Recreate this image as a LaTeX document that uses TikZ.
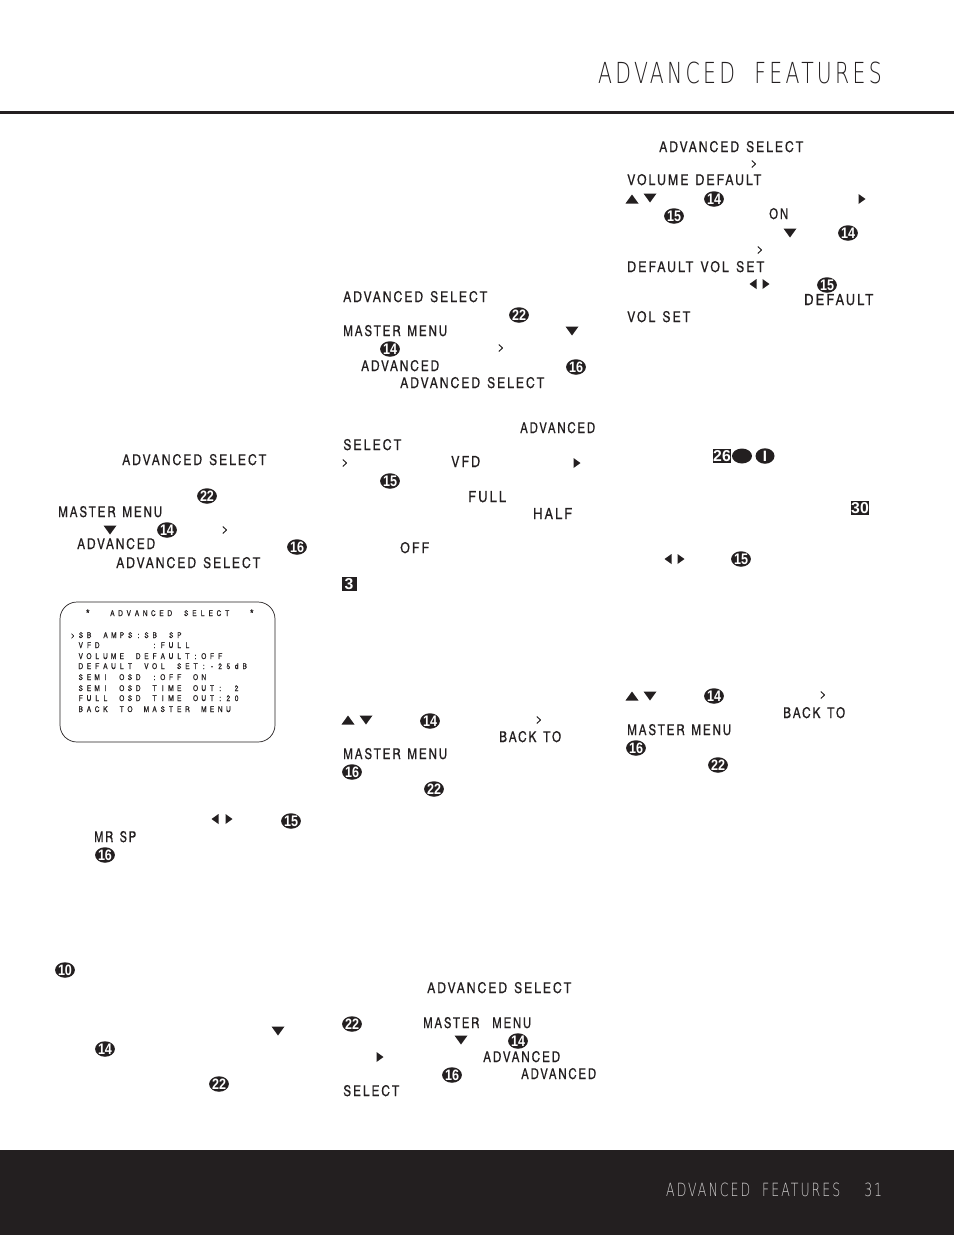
\documentclass[tikz,border=0pt]{standalone}
\usepackage{graphicx}
\usepackage{fontspec}
\usetikzlibrary{shapes.geometric}
\setmainfont{Liberation Sans}
\newfontfamily\thinfont[LetterSpace=16]{DejaVu Sans ExtraLight}
\newfontfamily\lblfont[LetterSpace=13,FakeBold=0.3,WordSpace=1.3]{TeX Gyre Heros Cn}
\newfontfamily\numfont{Liberation Sans Bold}
\newfontfamily\scrfont[FakeBold=0.4]{TeX Gyre Heros Cn}
\definecolor{ink}{HTML}{231F20}
\definecolor{foot}{HTML}{D0CECE}
\newcounter{nn}
\newcommand{\pitchchars}[1]{\ifx#1\relax\else\hbox to 8.2pt{\hss#1\hss}\expandafter\pitchchars\fi}
\newcommand{\bigast}{\raisebox{-2pt}{\fontsize{12}{12}\selectfont *}}
\tikzset{
  x=1pt,y=-1pt,
  lbl/.style={anchor=base west,inner sep=0pt,text=ink,font=\lblfont\fontsize{14}{14}\selectfont},
  badge/.style={ellipse,fill=ink,text=white,inner sep=0pt,minimum width=19pt,minimum height=15.5pt,font=\numfont\fontsize{11}{11}\selectfont},
  sqbadge/.style={rectangle,fill=ink,text=white,inner sep=0pt,minimum width=15pt,minimum height=14.5pt,font=\numfont\fontsize{14}{14}\selectfont},
  mark glyph/.style={fill=ink,draw=none},
  scrline/.style={anchor=base west,inner sep=0pt,text=ink,font=\scrfont\fontsize{8}{8}\selectfont},
  chev/.style={inner sep=0pt,text=ink,font=\lblfont\fontsize{11}{11}\selectfont}
}
\newcommand{\lb}[4]{\stepcounter{nn}\node[lbl] (n\arabic{nn}) at (#1,#2) {\resizebox{#3pt}{11pt}{#4}};}
\newcommand{\ba}[3]{\stepcounter{nn}\node[badge] (n\arabic{nn}) at (#1,#2) {\resizebox{14pt}{10.5pt}{#3}};}
\newcommand{\sq}[3]{\stepcounter{nn}\node[sqbadge] (n\arabic{nn}) at (#1,#2) {\resizebox{!}{11pt}{#3}};}
\newcommand{\gt}[2]{\stepcounter{nn}\node[chev] (n\arabic{nn}) at (#1,#2) {\resizebox{7pt}{7pt}{>}};}
\newcommand{\tdn}[2]{\fill[mark glyph] (#1-6.5,#2-4.5) -- (#1+6.5,#2-4.5) -- (#1,#2+4.5) -- cycle;}
\newcommand{\tup}[2]{\fill[mark glyph] (#1-6.5,#2+4.5) -- (#1+6.5,#2+4.5) -- (#1,#2-4.5) -- cycle;}
\newcommand{\trt}[2]{\fill[mark glyph] (#1-3.5,#2-5) -- (#1+3.5,#2) -- (#1-3.5,#2+5) -- cycle;}
\newcommand{\tlf}[2]{\fill[mark glyph] (#1+3.5,#2-5) -- (#1-3.5,#2) -- (#1+3.5,#2+5) -- cycle;}
\newcommand{\scr}[3]{\stepcounter{nn}\node[scrline] (n\arabic{nn}) at (#1,#2) {\pitchchars#3\relax};}
\begin{document}
\begin{tikzpicture}
\useasboundingbox (0,0) rectangle (954,1235);
% header
\node[anchor=base west,inner sep=0pt,text=ink,font=\thinfont\fontsize{29}{29}\selectfont] (title) at (598,83) {\resizebox{283.5pt}{21.5pt}{ADVANCED~~FEATURES}};
\fill[ink] (0,111) rectangle (954,114);
% footer
\fill[ink] (0,1150) rectangle (954,1235);
\node[anchor=base west,inner sep=0pt,text=foot,font=\thinfont\fontsize{18}{18}\selectfont] (foottext) at (666,1196) {\resizebox{216pt}{13.5pt}{ADVANCED~~FEATURES~~~~31}};
% column 1
\lb{122}{465}{144}{ADVANCED SELECT}
\ba{207}{496}{22}
\lb{58}{517}{104}{MASTER MENU}
\tdn{110}{530}
\ba{167}{530}{14}
\gt{225}{530}
\lb{77}{549}{78}{ADVANCED}
\ba{297}{547}{16}
\lb{116}{568}{144}{ADVANCED SELECT}
\stepcounter{nn}
\draw[ink,line width=0.7pt,rounded corners=17pt] (60,602) rectangle (275,742);
\scr{83.5}{616}{\bigast~~ADVANCED~SELECT~~\bigast}
\scr{68.5}{638}{>SB~AMPS:SB~SP}
\scr{76.5}{648}{VFD~~~~~~:FULL}
\scr{76.5}{659}{VOLUME~DEFAULT:OFF}
\scr{76.5}{669}{DEFAULT~VOL~SET:-25dB}
\scr{76.5}{680}{SEMI~OSD~:OFF~ON}
\scr{76.5}{691}{SEMI~OSD~TIME~OUT:~2}
\scr{76.5}{701}{FULL~OSD~TIME~OUT:20}
\scr{76.5}{712}{BACK~TO~MASTER~MENU}
\tlf{215}{819}
\trt{229}{819}
\ba{291}{821}{15}
\lb{94}{842}{42}{MR SP}
\ba{105}{855}{16}
\ba{65}{970}{10}
\tdn{278}{1031}
\ba{105}{1049}{14}
\ba{219}{1084}{22}
% column 2
\lb{343}{302}{144}{ADVANCED SELECT}
\ba{519}{315}{22}
\lb{343}{336}{104}{MASTER MENU}
\tdn{572}{331}
\ba{390}{349}{14}
\gt{501}{348}
\lb{361}{371}{78}{ADVANCED}
\ba{576}{367}{16}
\lb{400}{388}{144}{ADVANCED SELECT}
\lb{520}{433}{75}{ADVANCED}
\lb{343}{450}{58}{SELECT}
\gt{345}{463}
\lb{451}{467}{29}{VFD}
\trt{577}{463}
\ba{390}{481}{15}
\lb{468}{502}{38}{FULL}
\lb{533}{519}{39}{HALF}
\lb{400}{553}{29}{OFF}
\sq{349}{584}{3}
\tup{348}{720}
\tdn{366}{720}
\ba{430}{721}{14}
\gt{539}{720}
\lb{499}{742}{62}{BACK TO}
\lb{343}{759}{104}{MASTER MENU}
\ba{352}{772}{16}
\ba{434}{789}{22}
\lb{427}{993}{144}{ADVANCED SELECT}
\ba{352}{1024}{22}
\lb{423}{1028}{108}{MASTER~~MENU}
\tdn{461}{1040}
\ba{518}{1041}{14}
\trt{380}{1057}
\lb{483}{1062}{77}{ADVANCED}
\ba{452}{1075}{16}
\lb{521}{1079}{75}{ADVANCED}
\lb{343}{1096}{56}{SELECT}
% column 3
\lb{659}{152}{144}{ADVANCED SELECT}
\gt{754}{164}
\lb{627}{185}{134}{VOLUME DEFAULT}
\tup{632}{199}
\tdn{650}{198}
\ba{714}{199}{14}
\trt{862}{199}
\ba{674}{216}{15}
\lb{769}{219}{19}{ON}
\tdn{790}{233}
\ba{848}{233}{14}
\gt{760}{250}
\lb{627}{272}{137}{DEFAULT VOL SET}
\tlf{753}{284}
\trt{766}{284}
\ba{827}{285}{15}
\lb{804}{305}{69}{DEFAULT}
\lb{627}{322}{63}{VOL SET}
\sq{722}{456}{26}
\fill[ink] (742,456) ellipse [x radius=10,y radius=7.5];
\stepcounter{nn}
\node[badge,font=\numfont\fontsize{15}{15}\selectfont] (n\arabic{nn}) at (765,456) {I};
\sq{860}{508}{30}
\tlf{668}{559}
\trt{681}{559}
\ba{741}{559}{15}
\tup{632}{696}
\tdn{650}{696}
\ba{714}{696}{14}
\gt{823}{695}
\lb{783}{718}{62}{BACK TO}
\lb{627}{735}{104}{MASTER MENU}
\ba{636}{748}{16}
\ba{718}{765}{22}
\end{tikzpicture}
\end{document}
